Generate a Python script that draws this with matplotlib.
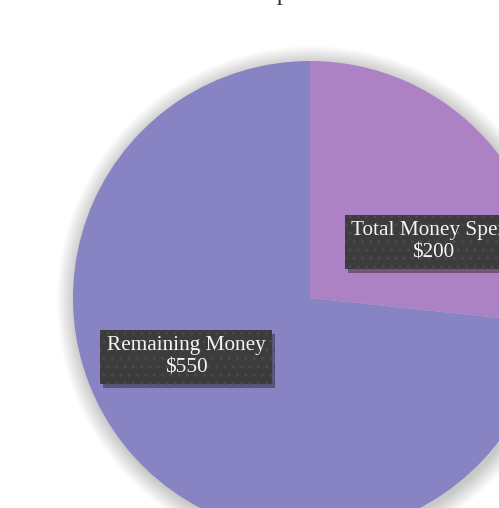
import matplotlib
matplotlib.use("Agg")
import matplotlib.pyplot as plt
from matplotlib.patches import Circle
import matplotlib.patheffects as pe

categories = ["Total Money Spent", "Remaining Money"]
values = [200, 550]
colors = ["#AD82C4", "#8884C4"]
title = "Expenditure"

W, H = 499, 508
fig = plt.figure(figsize=(W / 100, H / 100), dpi=100)
ax = fig.add_axes([0, 0, 1, 1])

cx, cy, r = 310, H - 298, 237

# soft shadow
for i in range(18, 0, -1):
    ax.add_patch(Circle((cx + 2, cy - 3), r + i, color="black", alpha=0.010, lw=0, zorder=0))

wedges, _ = ax.pie(values, colors=colors, startangle=90, counterclock=False,
                   center=(cx, cy), radius=r, frame=True,
                   wedgeprops=dict(linewidth=0))
ax.set_xlim(0, W)
ax.set_ylim(0, H)
ax.axis("off")

label_pos = [(433, H - 242), (186, H - 357)]
for name, val, (x, y) in zip(categories, values, label_pos):
    t = ax.text(x, y, f"{name}\n${val}", ha="center", va="center", color="#F4F4F4",
                fontsize=15.3, family="Liberation Serif", linespacing=1.22, zorder=5,
                bbox=dict(boxstyle="square,pad=0.3", facecolor="#3C3C3C",
                          edgecolor="#4A4A4A", linewidth=0, hatch=".."))
    t.get_bbox_patch().set_path_effects([pe.SimplePatchShadow(offset=(2, -3), alpha=0.4),
                                         pe.Normal()])

fig.text(310 / W, 1.0, title, ha="center", va="baseline", fontsize=18,
         family="Liberation Serif", color="#333333")

fig.savefig("out.png", dpi=100)
